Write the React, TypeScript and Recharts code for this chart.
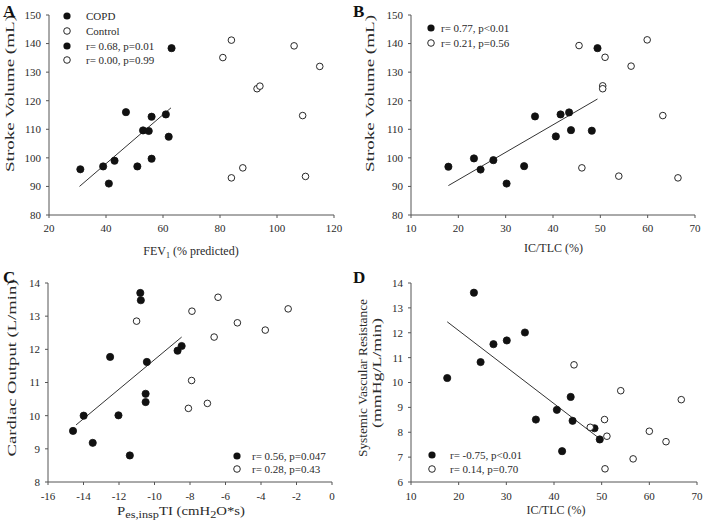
import { ScatterChart, Scatter, XAxis, YAxis, ReferenceLine, Legend } from "recharts"

const FONT = "'Liberation Serif', 'Times New Roman', Times, serif"
const AXIS = "#555"
const INK = "#2a2a2a"

// A: FEV1 (% predicted) vs stroke volume
const fevCopd = [31, 39, 41, 43, 47, 51, 53, 55, 56, 56, 61, 62, 63]
const svCopdA = [96, 97, 91, 99, 116, 97, 109.6, 109.4, 114.4, 99.7, 115.2, 107.4, 138.4]
const fevCtrl = [84, 81, 106, 115, 93, 94, 109, 88, 84, 110]
const svCtrlA = [141.2, 135.1, 139.2, 132, 124.2, 125.1, 114.8, 96.5, 93, 93.5]
const fitA = [[30.7, 90.0], [62.8, 117.5]]

// B: IC/TLC vs stroke volume
const icCopdB = [17.9, 23.3, 24.7, 27.4, 30.2, 33.9, 36.2, 40.6, 41.6, 43.4, 43.8, 48.2, 49.4]
const svCopdB = [96.9, 99.8, 95.9, 99.2, 91.0, 97.1, 114.5, 107.5, 115.2, 115.9, 109.7, 109.5, 138.4]
const icCtrlB = [45.5, 51.0, 50.5, 50.5, 56.5, 59.9, 63.2, 46.1, 53.9, 66.4]
const svCtrlB = [139.3, 135.2, 125.2, 124.2, 132.1, 141.3, 114.8, 96.5, 93.6, 93.0]
const fitB = [[17.9, 90.3], [49.4, 120.6]]

// C: Pes,insp TI vs cardiac output
const pesCopd = [-14.59, -13.99, -13.48, -12.5, -12.03, -11.39, -10.8, -10.77, -10.43, -10.5, -10.5, -8.7, -8.47]
const coCopd = [9.54, 10.0, 9.18, 11.77, 10.01, 8.8, 13.7, 13.48, 11.62, 10.66, 10.41, 11.96, 12.1]
const pesCtrl = [-11.01, -7.89, -6.42, -6.64, -5.33, -3.76, -2.47, -7.91, -8.09, -7.02]
const coCtrl = [12.85, 13.15, 13.57, 12.37, 12.8, 12.58, 13.22, 11.06, 10.22, 10.37]
const fitC = [[-14.42, 9.72], [-8.47, 12.37]]

// D: IC/TLC vs systemic vascular resistance
const icCopdD = [17.6, 23.2, 24.6, 27.3, 30.1, 33.9, 36.2, 40.6, 41.7, 43.5, 43.9, 48.5, 49.6]
const svrCopd = [10.18, 13.61, 10.82, 11.54, 11.69, 12.01, 8.51, 8.9, 7.24, 9.42, 8.46, 8.16, 7.71]
const icCtrlD = [44.2, 47.6, 50.6, 51.1, 50.7, 54.0, 56.6, 60.0, 63.5, 66.7]
const svrCtrl = [10.71, 8.2, 8.51, 7.84, 6.53, 9.67, 6.93, 8.04, 7.62, 9.31]
const fitD = [[17.6, 12.44], [49.6, 7.74]]

const ticksA = { x: [20, 40, 60, 80, 100, 120], y: [80, 90, 100, 110, 120, 130, 140, 150] }
const ticksB = { x: [10, 20, 30, 40, 50, 60, 70], y: [80, 90, 100, 110, 120, 130, 140, 150] }
const ticksC = { x: [-16, -14, -12, -10, -8, -6, -4, -2, 0], y: [8, 9, 10, 11, 12, 13, 14] }
const ticksD = { x: [10, 20, 30, 40, 50, 60, 70], y: [6, 7, 8, 9, 10, 11, 12, 13, 14] }

const legendA = ["COPD", "Control", "r= 0.68, p=0.01", "r= 0.00, p=0.99"]
const legendB = ["r= 0.77, p<0.01", "r= 0.21, p=0.56"]
const legendC = ["r= 0.56, p=0.047", "r= 0.28, p=0.43"]
const legendD = ["r= -0.75, p<0.01", "r= 0.14, p=0.70"]

const toPoints = (xs: number[], ys: number[]) => xs.map((x, i) => ({ x, y: ys[i] }))
const toSeg = (f: number[][]) => f.map(([x, y]) => ({ x, y }))

const filledDot = (p: any) => <circle cx={p.cx} cy={p.cy} r={3.6} fill="#111" stroke="#111" strokeWidth={0.8} />
const openDot = (p: any) => <circle cx={p.cx} cy={p.cy} r={3.3} fill="#fff" stroke="#111" strokeWidth={0.9} />

function LegendBox({ labels, cx, tx, rows, width, height }: any) {
  return (
    <div style={{ position: "relative", width, height, fontFamily: FONT, fontSize: 11, color: INK }}>
      {labels.map((lab: string, i: number) => (
        <div key={i}>
          <svg width={10} height={10} style={{ position: "absolute", left: cx - 5, top: rows[i] - 5 }}>
            {i % 2 === 0 ? (
              <circle cx={5} cy={5} r={3.6} fill="#111" />
            ) : (
              <circle cx={5} cy={5} r={3.3} fill="#fff" stroke="#111" strokeWidth={0.9} />
            )}
          </svg>
          <span style={{ position: "absolute", left: tx, top: rows[i] - 7, lineHeight: "14px", whiteSpace: "nowrap" }}>{lab}</span>
        </div>
      ))}
    </div>
  )
}

function YTitle({ cx, cy, len, children }: any) {
  return (
    <text
      x={cx}
      y={cy}
      transform={`rotate(-90 ${cx} ${cy})`}
      textAnchor="middle"
      dominantBaseline="central"
      textLength={len}
      lengthAdjust="spacingAndGlyphs"
      fontFamily={FONT}
      fontSize={13}
      fill={INK}
    >
      {children}
    </text>
  )
}

function Panel(p: any) {
  const tick = { fontSize: 11, fill: INK, fontFamily: FONT }
  return (
    <div style={{ position: "absolute", left: p.left, top: p.top }}>
      <ScatterChart width={p.width} height={p.height} margin={p.margin}>
        <XAxis
          type="number"
          dataKey="x"
          domain={[p.ticks.x[0], p.ticks.x[p.ticks.x.length - 1]]}
          ticks={p.ticks.x}
          interval={0}
          height={30}
          tick={tick}
          tickSize={3}
          tickMargin={p.xTickMargin}
          stroke={AXIS}
          label={() => p.xTitle}
        />
        <YAxis
          type="number"
          dataKey="y"
          domain={[p.ticks.y[0], p.ticks.y[p.ticks.y.length - 1]]}
          ticks={p.ticks.y}
          interval={0}
          width={p.yWidth}
          tick={tick}
          tickSize={3}
          tickMargin={5}
          stroke={AXIS}
          label={() => p.yTitle}
        />
        <ReferenceLine segment={toSeg(p.fit)} stroke="#333" strokeWidth={1} ifOverflow="visible" />
        <Scatter data={p.copd} shape={filledDot} isAnimationActive={false} />
        <Scatter data={p.ctrl} shape={openDot} isAnimationActive={false} />
        <Legend
          layout="vertical"
          align="center"
          verticalAlign="middle"
          wrapperStyle={{ left: 0, top: 0, width: p.width, height: p.height, pointerEvents: "none" }}
          content={() => <LegendBox {...p.legend} width={p.width} height={p.height} />}
        />
      </ScatterChart>
    </div>
  )
}

export default function App() {
  const xt = { fontFamily: FONT, fontSize: 12, fill: INK }
  return (
    <div style={{ position: "absolute", left: 0, top: 0, width: 703, height: 530, background: "#fff" }}>
      <Panel
        left={0}
        top={0}
        width={351}
        height={262}
        margin={{ top: 15, right: 17, bottom: 17, left: 0 }}
        yWidth={49}
        xTickMargin={6}
        ticks={ticksA}
        copd={toPoints(fevCopd, svCopdA)}
        ctrl={toPoints(fevCtrl, svCtrlA)}
        fit={fitA}
        legend={{ labels: legendA, cx: 67, tx: 86, rows: [16, 31, 46, 60] }}
        xTitle={
          <text x={191} y={255} textAnchor="middle" {...xt}>
            FEV<tspan dy={3} fontSize={8}>1</tspan>
            <tspan dy={-3}> (% predicted)</tspan>
          </text>
        }
        yTitle={<YTitle cx={9} cy={93.5} len={157}>Stroke Volume (mL)</YTitle>}
      />
      <Panel
        left={351}
        top={0}
        width={352}
        height={262}
        margin={{ top: 15, right: 8, bottom: 17, left: 0 }}
        yWidth={60}
        xTickMargin={6}
        ticks={ticksB}
        copd={toPoints(icCopdB, svCopdB)}
        ctrl={toPoints(icCtrlB, svCtrlB)}
        fit={fitB}
        legend={{ labels: legendB, cx: 80, tx: 90, rows: [28, 43] }}
        xTitle={
          <text x={202.5} y={252} textAnchor="middle" {...xt}>
            IC/TLC (%)
          </text>
        }
        yTitle={<YTitle cx={18} cy={93.5} len={157}>Stroke Volume (mL)</YTitle>}
      />
      <Panel
        left={0}
        top={262}
        width={351}
        height={268}
        margin={{ top: 21, right: 19, bottom: 18, left: 0 }}
        yWidth={48}
        xTickMargin={7}
        ticks={ticksC}
        copd={toPoints(pesCopd, coCopd)}
        ctrl={toPoints(pesCtrl, coCtrl)}
        fit={fitC}
        legend={{ labels: legendC, cx: 237, tx: 252, rows: [194, 207] }}
        xTitle={
          <text x={117} y={253} textAnchor="start" textLength={128} lengthAdjust="spacingAndGlyphs" {...xt}>
            P<tspan dy={3} fontSize={10}>es,insp</tspan>
            <tspan dy={-3}>TI (cmH</tspan>
            <tspan dy={3} fontSize={10}>2</tspan>
            <tspan dy={-3}>O*s)</tspan>
          </text>
        }
        yTitle={<YTitle cx={11} cy={106} len={177}>Cardiac Output (L/min)</YTitle>}
      />
      <Panel
        left={351}
        top={262}
        width={352}
        height={268}
        margin={{ top: 21, right: 6, bottom: 18, left: 0 }}
        yWidth={60}
        xTickMargin={7}
        ticks={ticksD}
        copd={toPoints(icCopdD, svrCopd)}
        ctrl={toPoints(icCtrlD, svrCtrl)}
        fit={fitD}
        legend={{ labels: legendD, cx: 81, tx: 99, rows: [193, 207] }}
        xTitle={
          <text x={205} y={252} textAnchor="middle" {...xt}>
            IC/TLC (%)
          </text>
        }
        yTitle={
          <g>
            <YTitle cx={11} cy={116} len={158}>Systemic Vascular Resistance</YTitle>
            <YTitle cx={25} cy={111} len={110}>(mmHg/L/min)</YTitle>
          </g>
        }
      />
      <svg width={703} height={530} style={{ position: "absolute", left: 0, top: 0, pointerEvents: "none" }}>
        <g fontFamily={FONT} fontWeight="bold" fontSize={17} fill="#111">
          <text x={3} y={17}>A</text>
          <text x={353} y={17}>B</text>
          <text x={3} y={283}>C</text>
          <text x={353} y={283}>D</text>
        </g>
      </svg>
    </div>
  )
}
